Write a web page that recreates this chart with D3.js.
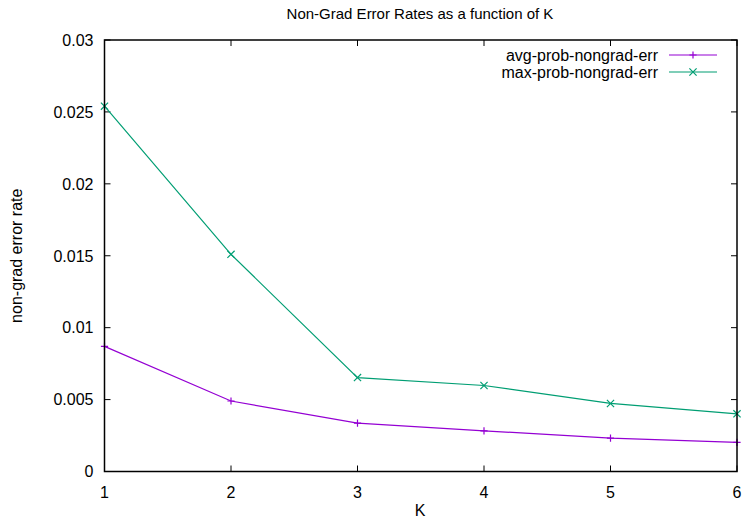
<!DOCTYPE html>
<html>
<head>
<meta charset="utf-8">
<script src="https://cdn.jsdelivr.net/npm/d3@7"></script>
<style>
  body { margin: 0; background: #fff; }
  text { font-family: "Liberation Sans", Arial, sans-serif; fill: #000; }
</style>
</head>
<body>
<div id="chart"></div>
<script>
const kValues = [1, 2, 3, 4, 5, 6];
const avgErr = [0.0087, 0.0049, 0.00336, 0.00283, 0.00232, 0.00202];
const maxErr = [0.0254, 0.0151, 0.00653, 0.00598, 0.00473, 0.00401];
const yTicks = [0, 0.005, 0.01, 0.015, 0.02, 0.025, 0.03];
const seriesNames = ["avg-prob-nongrad-err", "max-prob-nongrad-err"];

const width = 743, height = 521;
const margin = { left: 104.5, right: 6, top: 40, bottom: 49.5 };

const svg = d3.select("#chart").append("svg")
  .attr("width", width)
  .attr("height", height);

const x = d3.scaleLinear().domain([1, 6]).range([margin.left, width - margin.right]);
const y = d3.scaleLinear().domain([0, 0.03]).range([height - margin.bottom, margin.top]);

// ticks (inward, mirrored)
const tickLen = 6;
const axes = svg.append("g").attr("stroke", "#000").attr("stroke-width", 1);
kValues.forEach(k => {
  axes.append("line").attr("x1", x(k)).attr("x2", x(k))
    .attr("y1", y.range()[0]).attr("y2", y.range()[0] - tickLen);
  axes.append("line").attr("x1", x(k)).attr("x2", x(k))
    .attr("y1", y.range()[1]).attr("y2", y.range()[1] + tickLen);
});
yTicks.forEach(t => {
  axes.append("line").attr("x1", x.range()[0]).attr("x2", x.range()[0] + tickLen)
    .attr("y1", y(t)).attr("y2", y(t));
  axes.append("line").attr("x1", x.range()[1]).attr("x2", x.range()[1] - tickLen)
    .attr("y1", y(t)).attr("y2", y(t));
});

// tick labels
svg.append("g").selectAll("text").data(yTicks).enter().append("text")
  .attr("x", x.range()[0] - 11)
  .attr("y", d => y(d))
  .attr("dy", "0.36em")
  .attr("text-anchor", "end")
  .style("font-size", "16px")
  .text(d => d3.format("~g")(d));

svg.append("g").selectAll("text").data(kValues).enter().append("text")
  .attr("x", d => x(d))
  .attr("y", y.range()[0] + 26)
  .attr("text-anchor", "middle")
  .style("font-size", "16px")
  .text(d => d);

// series
const series = [
  { name: seriesNames[0], values: avgErr, color: "#9400d3", marker: "plus" },
  { name: seriesNames[1], values: maxErr, color: "#009e73", marker: "cross" }
];

const line = d3.line().x((d, i) => x(kValues[i])).y(d => y(d));
const ms = 3.6;
function markerPath(type, cx, cy) {
  if (type === "plus")
    return `M${cx - ms},${cy}H${cx + ms}M${cx},${cy - ms}V${cy + ms}`;
  return `M${cx - ms},${cy - ms}L${cx + ms},${cy + ms}M${cx - ms},${cy + ms}L${cx + ms},${cy - ms}`;
}

series.forEach(s => {
  svg.append("path")
    .datum(s.values)
    .attr("fill", "none")
    .attr("stroke", s.color)
    .attr("stroke-width", 1.2)
    .attr("d", line);
  svg.append("g").selectAll("path").data(s.values).enter().append("path")
    .attr("fill", "none")
    .attr("stroke", s.color)
    .attr("stroke-width", 1.2)
    .attr("d", (d, i) => markerPath(s.marker, x(kValues[i]), y(d)));
});

// border
svg.append("rect")
  .attr("x", x.range()[0]).attr("y", y.range()[1])
  .attr("width", x.range()[1] - x.range()[0])
  .attr("height", y.range()[0] - y.range()[1])
  .attr("fill", "none").attr("stroke", "#000").attr("stroke-width", 1.5);

// legend
const legend = svg.append("g");
series.forEach((s, i) => {
  const ly = 55 + i * 17;
  legend.append("text")
    .attr("x", 658).attr("y", ly).attr("dy", "0.36em")
    .attr("text-anchor", "end")
    .style("font-size", "16px")
    .text(s.name);
  legend.append("line")
    .attr("x1", 669).attr("x2", 717).attr("y1", ly).attr("y2", ly)
    .attr("stroke", s.color).attr("stroke-width", 1.2);
  legend.append("path")
    .attr("fill", "none").attr("stroke", s.color).attr("stroke-width", 1.2)
    .attr("d", markerPath(s.marker, 693, ly));
});

// titles
svg.append("text")
  .attr("x", 420).attr("y", 19)
  .attr("text-anchor", "middle")
  .style("font-size", "15px")
  .text("Non-Grad Error Rates as a function of K");

svg.append("text")
  .attr("x", 420).attr("y", 516)
  .attr("text-anchor", "middle")
  .style("font-size", "16px")
  .text("K");

svg.append("text")
  .attr("transform", `translate(22, ${(y.range()[0] + y.range()[1]) / 2}) rotate(-90)`)
  .attr("text-anchor", "middle")
  .style("font-size", "16px")
  .text("non-grad error rate");
</script>
</body>
</html>
